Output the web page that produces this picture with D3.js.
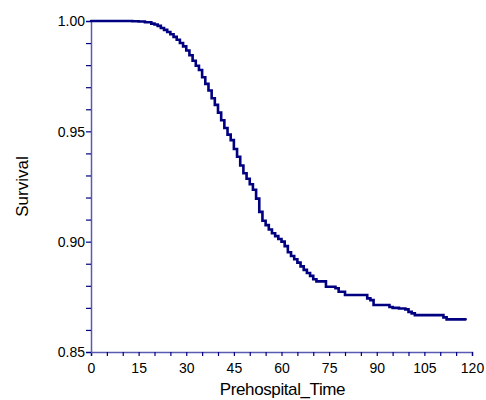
<!DOCTYPE html>
<html>
<head>
<meta charset="utf-8">
<script src="https://cdn.jsdelivr.net/npm/d3@7"></script>
<style>
  body { margin: 0; background: #fff; }
  text { font-family: "Liberation Sans", Arial, sans-serif; fill: #000; }
</style>
</head>
<body>
<div id="chart"></div>
<script>
// Kaplan-Meier estimate (step after each time)
const times = [0, 13, 15, 17, 19, 20, 21, 22, 23, 24, 25, 26, 27, 28, 29, 30,
  31, 32, 33, 34, 35, 36, 37, 38, 39, 40, 41, 42, 43, 44, 45, 46, 47, 48, 49, 50,
  51, 52, 53, 54, 55, 56, 57, 58, 59, 60, 61, 62, 63, 64, 65, 66, 67, 68, 69, 70,
  71, 74, 77, 78, 80, 87, 88, 89, 94, 95, 97, 99, 100, 101, 102, 111, 112, 118];
const survival = [1.0, 0.9999, 0.9998, 0.9994, 0.9988, 0.9984, 0.9978, 0.9968, 0.9960,
  0.9950, 0.9940, 0.9928, 0.9915, 0.9900, 0.9885, 0.9866, 0.9845, 0.9820, 0.9797,
  0.9778, 0.9745, 0.9715, 0.9685, 0.9650, 0.9620, 0.9585, 0.9550, 0.9515, 0.9485,
  0.9460, 0.9420, 0.9385, 0.9345, 0.9310, 0.9285, 0.9260, 0.9235, 0.9195, 0.9135,
  0.9095, 0.9075, 0.9055, 0.9038, 0.9025, 0.9012, 0.9000, 0.8980, 0.8952, 0.8935,
  0.8920, 0.8905, 0.8888, 0.8872, 0.8858, 0.8845, 0.8830, 0.8820, 0.8796, 0.8789,
  0.8773, 0.8758, 0.8743, 0.8735, 0.8713, 0.8704, 0.8700, 0.8697, 0.8693, 0.8682,
  0.8675, 0.8667, 0.8657, 0.8648, 0.8648];

const xTicks = [0, 15, 30, 45, 60, 75, 90, 105, 120];
const yTicks = [0.85, 0.90, 0.95, 1.00];

const width = 486, height = 400;
const margin = {top: 21, right: 14, bottom: 48, left: 91};

const svg = d3.select('#chart').append('svg')
    .attr('width', width)
    .attr('height', height);

const x = d3.scaleLinear().domain([0, 120]).range([margin.left, width - margin.right]);
const y = d3.scaleLinear().domain([0.85, 1.0]).range([height - margin.bottom, margin.top]);

const navy = '#000080';

// x axis: minor ticks every 5, labels every 15
const xAxis = svg.append('g')
    .attr('transform', `translate(0,${y(0.85)})`)
    .call(d3.axisBottom(x).tickValues(d3.range(0, 121, 5)).tickSize(4)
      .tickFormat(d => xTicks.includes(d) ? d : ''));

// y axis: minor ticks every 0.01
const yAxis = svg.append('g')
    .attr('transform', `translate(${x(0)},0)`)
    .call(d3.axisLeft(y).tickValues(d3.range(85, 101, 1).map(d => d / 100)).tickSize(5)
      .tickFormat(d => yTicks.some(t => Math.abs(t - d) < 1e-9) ? d3.format('.2f')(d) : ''));

[xAxis, yAxis].forEach(g => {
  g.select('.domain').attr('stroke', '#5a5ab4').attr('stroke-width', 1.5);
  g.selectAll('.tick line').attr('stroke', navy).attr('stroke-width', 1.2);
  g.selectAll('.tick text')
      .attr('font-size', 14)
      .attr('font-family', '"Liberation Sans", Arial, sans-serif')
      .attr('fill', '#000');
});
xAxis.selectAll('.tick text').attr('y', 21).attr('dy', 0);
yAxis.selectAll('.tick text').attr('x', -6).attr('dy', '0.35em');

// survival curve
const pts = times.map((t, i) => [t, survival[i]]);
svg.append('path')
    .datum(pts)
    .attr('fill', 'none')
    .attr('stroke', navy)
    .attr('stroke-width', 2.6)
    .attr('stroke-linecap', 'round')
    .attr('stroke-linejoin', 'miter')
    .attr('d', d3.line().x(d => x(d[0])).y(d => y(d[1])).curve(d3.curveStepAfter));

// axis titles
svg.append('text')
    .attr('x', 282.5)
    .attr('y', 395)
    .attr('text-anchor', 'middle')
    .attr('font-size', 17)
    .attr('letter-spacing', '-0.4px')
    .text('Prehospital_Time');

svg.append('text')
    .attr('transform', `translate(28,${(y(0.85) + y(1.0)) / 2}) rotate(-90)`)
    .attr('text-anchor', 'middle')
    .attr('font-size', 17)
    .text('Survival');
</script>
</body>
</html>
